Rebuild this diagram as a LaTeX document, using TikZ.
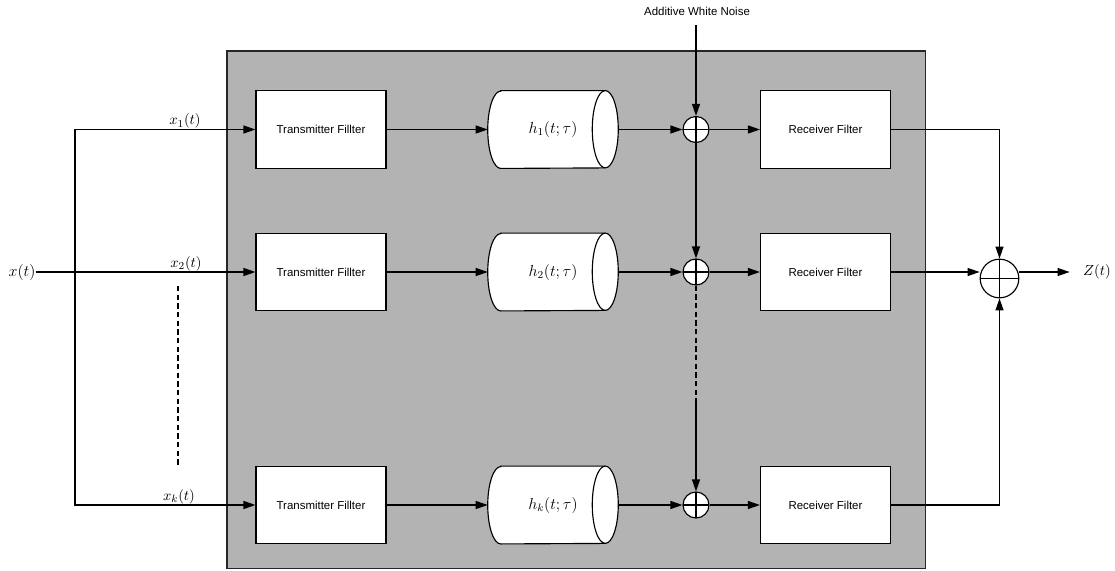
\documentclass[tikz,border=0pt]{standalone}
\usepackage{fontspec}
\newfontfamily\boxfont{Liberation Sans}
\usetikzlibrary{arrows.meta,calc}
\definecolor{panel}{RGB}{179,179,179}
\pgfdeclarelayer{back}
\pgfdeclarelayer{mid}
\pgfsetlayers{back,mid,main}
\tikzset{
  wire/.style={line width=0.85pt},
  arr/.style={wire,-{Triangle[length=9pt,width=6pt]}},
  filterbox/.style={draw,fill=white,line width=0.85pt,minimum width=97.5pt,minimum height=58pt,
    inner sep=0pt,font=\boxfont\fontsize{8.6}{10}\selectfont},
  chan/.style={minimum width=97.5pt,minimum height=58pt,inner sep=0pt,font=\fontsize{12}{14}\selectfont},
  adder/.style={circle,draw,fill=white,line width=0.85pt,minimum size=19.5pt,inner sep=0pt,
    path picture={\draw[line width=0.85pt] (path picture bounding box.north) -- (path picture bounding box.south)
      (path picture bounding box.west) -- (path picture bounding box.east);}},
  bigadder/.style={adder,minimum size=29pt},
  sig/.style={inner sep=0.5pt,font=\fontsize{10.95}{12}\selectfont},
}
\begin{document}
\begin{tikzpicture}[x=0.75pt,y=-0.75pt]
\useasboundingbox (0,0) rectangle (1115,571);

% shaded channel panel
\begin{pgfonlayer}{back}
  \draw[fill=panel,line width=1pt,draw=black!85] (227,51) rectangle (925.5,568.5);
\end{pgfonlayer}

% transmitter filters
\node[filterbox] (tx1) at (321,129.5) {Transmitter Fillter};
\node[filterbox] (tx2) at (321,272) {Transmitter Fillter};
\node[filterbox] (txk) at (321,505) {Transmitter Fillter};

% channels (label sits a little left of the cylinder's middle)
\node[chan] (h1) at (553,129.5) {$h_1(t;\tau)$\hspace{4.5pt}};
\node[chan] (h2) at (553,272) {$h_2(t;\tau)$\hspace{4.5pt}};
\node[chan] (hk) at (553,505) {$h_k(t;\tau)$\hspace{4.5pt}};

% cylinders around the channel labels
\begin{pgfonlayer}{mid}
\foreach \h in {h1,h2,hk} {
  \draw[fill=white,line width=0.85pt]
    ($(\h.north west)+(13,0)$) -- ($(\h.north east)+(-13,0)$)
    arc[start angle=90,end angle=-90,x radius=9.75pt,y radius=29pt]
    -- ($(\h.south west)+(13,0)$)
    arc[start angle=270,end angle=90,x radius=9.75pt,y radius=29pt] -- cycle;
  \draw[line width=0.85pt] ($(\h.north east)+(-13,0)$)
    arc[start angle=90,end angle=270,x radius=9.75pt,y radius=29pt];
}
\end{pgfonlayer}

% noise adders
\node[adder] (s1) at (696,129.5) {};
\node[adder] (s2) at (696,272) {};
\node[adder] (sk) at (696,505) {};

% receiver filters
\node[filterbox] (rx1) at (825.5,129.5) {Receiver Filter};
\node[filterbox] (rx2) at (825.5,272) {Receiver Filter};
\node[filterbox] (rxk) at (825.5,505) {Receiver Filter};

% output combiner
\node[bigadder] (sz) at (999.5,278.5) {};

% texts
\node[font=\boxfont\fontsize{8.6}{10}\selectfont] (noise) at (697,11) {Additive White Noise};
\node[inner sep=0pt,font=\fontsize{12}{14}\selectfont] (xt) at (22,272) {$x(t)$};
\node[inner sep=0pt,font=\fontsize{10.95}{12}\selectfont] (zt) at (1097,272) {$Z(t)$};
\node[sig,anchor=south] (l1) at (185,129.5) {$x_1(t)$};
\node[sig,anchor=south] (l2) at (186,272) {$x_2(t)$};
\node[sig,anchor=south] (lk) at (179,505) {$x_k(t)$};

% helper points
\coordinate (jn) at (75,272);
\coordinate (nz) at (696,25);
\coordinate (dk) at (696,398);
\coordinate (da) at (178,286);
\coordinate (db) at (178,466);

% input split
\draw[wire] (xt.east) -- (jn);
\draw[arr] (jn) -- (tx2.west);
\draw[arr] (jn) |- (tx1.west);
\draw[arr] (jn) |- (txk.west);
\draw[wire,dash pattern=on 4pt off 2.5pt] (da) -- (db);

% branches
\foreach \r in {1,2,k} {
  \draw[arr] (tx\r.east) -- (h\r.west);
  \draw[arr] (h\r.east) -- (s\r.west);
  \draw[arr] (s\r.east) -- (rx\r.west);
}

% noise path
\draw[arr] (nz) -- (s1.north);
\draw[arr] (s1.south) -- (s2.north);
\draw[wire,dash pattern=on 4pt off 2.5pt] (s2.south) -- (dk);
\draw[arr] (dk) -- (sk.north);

% combining
\draw[arr] (rx1.east) -| (sz.north);
\draw[arr] (rxk.east) -| (sz.south);
\draw[arr] (rx2.east) -- (rx2.east -| sz.west);
\draw[arr] (sz.east |- rx2.east) -- ([xshift=-10pt]zt.west);
\end{tikzpicture}
\end{document}
